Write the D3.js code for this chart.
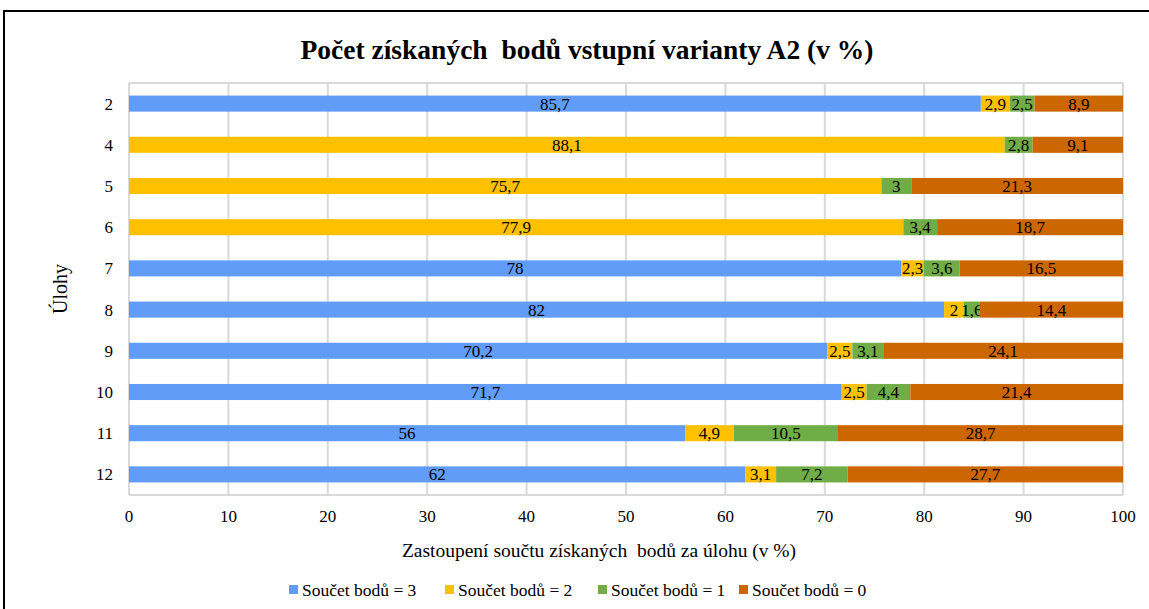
<!DOCTYPE html>
<html>
<head>
<meta charset="utf-8">
<script src="https://cdn.jsdelivr.net/npm/d3@7"></script>
<style>
  body { margin: 0; background: #fff; }
  svg text { font-family: "Liberation Serif", "Times New Roman", serif; }
</style>
</head>
<body>
<svg id="chart" width="1149" height="609"></svg>
<script>
// chart values
const ulohy = ['2', '4', '5', '6', '7', '8', '9', '10', '11', '12']
const seriesNames = ['Součet bodů = 3', 'Součet bodů = 2', 'Součet bodů = 1', 'Součet bodů = 0']
const body3 = [85.7, 0, 0, 0, 78, 82, 70.2, 71.7, 56, 62]
const body2 = [2.9, 88.1, 75.7, 77.9, 2.3, 2, 2.5, 2.5, 4.9, 3.1]
const body1 = [2.5, 2.8, 3, 3.4, 3.6, 1.6, 3.1, 4.4, 10.5, 7.2]
const body0 = [8.9, 9.1, 21.3, 18.7, 16.5, 14.4, 24.1, 21.4, 28.7, 27.7]
const xTicks = [0, 10, 20, 30, 40, 50, 60, 70, 80, 90, 100]
const colors = ['#619DF8', '#FFC000', '#70AD47', '#CC6600']

const svg = d3.select('#chart')

// outer frame
svg.append('rect')
  .attr('x', 4).attr('y', 11)
  .attr('width', 1160).attr('height', 620)
  .attr('fill', 'none').attr('stroke', '#000').attr('stroke-width', 2)

const plotLeft = 129, plotRight = 1123, plotTop = 83, plotBottom = 495

// 100 % stacked: each row is scaled to fill 0..1
const x = d3.scaleLinear().domain([0, 1]).range([plotLeft, plotRight])
const xAxisScale = d3.scaleLinear().domain([0, 100]).range([plotLeft, plotRight])
const y = d3.scaleBand().domain(ulohy).range([plotTop, plotBottom]).paddingInner(0.61).paddingOuter(0.305)

// grid
svg.append('g').selectAll('line').data(xTicks).join('line')
  .attr('x1', d => xAxisScale(d)).attr('x2', d => xAxisScale(d))
  .attr('y1', plotTop).attr('y2', plotBottom)
  .attr('stroke', '#d9d9d9').attr('stroke-width', 2)
svg.append('line')
  .attr('x1', plotLeft).attr('x2', plotRight).attr('y1', plotTop).attr('y2', plotTop)
  .attr('stroke', '#d9d9d9').attr('stroke-width', 2)
svg.append('line')
  .attr('x1', plotLeft).attr('x2', plotRight).attr('y1', plotBottom).attr('y2', plotBottom)
  .attr('stroke', '#d9d9d9').attr('stroke-width', 2)

// stacked data
const keys = ['s0', 's1', 's2', 's3']
const rows = ulohy.map((u, i) => ({ u: u, s0: body3[i], s1: body2[i], s2: body1[i], s3: body0[i] }))
const stack = d3.stack().keys(keys).offset(d3.stackOffsetExpand)(rows)

const layers = svg.append('g').selectAll('g').data(stack).join('g')
  .attr('fill', (d, i) => colors[i])

layers.selectAll('rect').data(d => d).join('rect')
  .attr('x', d => x(d[0]))
  .attr('y', d => y(d.data.u))
  .attr('width', d => x(d[1]) - x(d[0]))
  .attr('height', y.bandwidth())

const fmt = v => String(v).replace('.', ',')
layers.selectAll('text')
  .data(d => d.map(p => Object.assign(p, { key: d.key })).filter(p => p.data[d.key] > 0))
  .join('text')
  .attr('x', d => (x(d[0]) + x(d[1])) / 2)
  .attr('y', d => y(d.data.u) + y.bandwidth() / 2)
  .attr('dy', '0.35em')
  .attr('text-anchor', 'middle')
  .attr('fill', '#000')
  .style('font-size', '17px')
  .text(d => fmt(d.data[d.key]))

// y tick labels
svg.append('g').selectAll('text').data(ulohy).join('text')
  .attr('x', 113)
  .attr('y', d => y(d) + y.bandwidth() / 2)
  .attr('dy', '0.35em')
  .attr('text-anchor', 'end')
  .style('font-size', '17px')
  .text(d => d)

// x tick labels
svg.append('g').selectAll('text').data(xTicks).join('text')
  .attr('x', d => xAxisScale(d))
  .attr('y', 522)
  .attr('text-anchor', 'middle')
  .style('font-size', '17px')
  .text(d => d)

// titles
svg.append('text')
  .attr('x', 587).attr('y', 59)
  .attr('text-anchor', 'middle')
  .attr('xml:space', 'preserve')
  .style('font-size', '27.5px').style('font-weight', 'bold')
  .text('Počet získaných  bodů vstupní varianty A2 (v %)')

svg.append('text')
  .attr('x', 599).attr('y', 557)
  .attr('text-anchor', 'middle')
  .attr('xml:space', 'preserve')
  .style('font-size', '19.5px')
  .text('Zastoupení součtu získaných  bodů za úlohu (v %)')

svg.append('text')
  .attr('transform', 'translate(67,289) rotate(-90)')
  .attr('text-anchor', 'middle')
  .style('font-size', '20px')
  .text('Úlohy')

// legend
const legendX = [289, 445, 598, 739]
const legend = svg.append('g').selectAll('g').data(seriesNames).join('g')
  .attr('transform', (d, i) => `translate(${legendX[i]},590)`)
legend.append('rect')
  .attr('x', 0).attr('y', -5).attr('width', 9).attr('height', 9)
  .attr('fill', (d, i) => colors[i])
legend.append('text')
  .attr('x', 13).attr('y', 0)
  .attr('dy', '0.32em')
  .style('font-size', '17.5px')
  .text(d => d)
</script>
</body>
</html>
